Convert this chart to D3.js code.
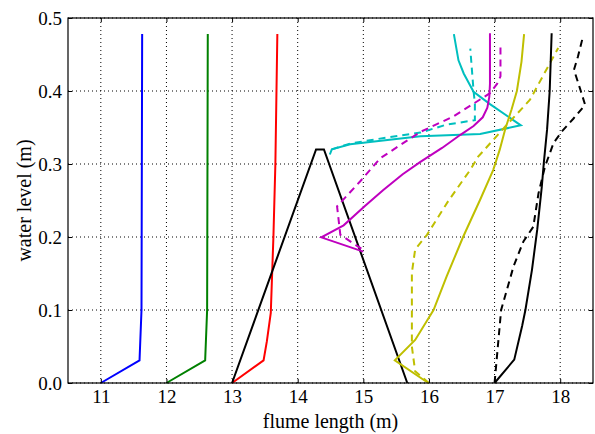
<!DOCTYPE html>
<html>
<head>
<meta charset="utf-8">
<script src="https://cdn.jsdelivr.net/npm/d3@7"></script>
<style>
  body { margin: 0; background: #fff; }
  text { font-family: "Palatino Linotype", Palatino, "URW Palladio L", "Liberation Serif", serif; }
</style>
</head>
<body>
<div id="chart"></div>
<script>
// tick values
var xTicks = [11, 12, 13, 14, 15, 16, 17, 18];
var yTicks = [0.0, 0.1, 0.2, 0.3, 0.4, 0.5];

// series, [flume length, water level]
var blueLine = [[11.0, 0], [11.59, 0.031], [11.62, 0.1], [11.63, 0.478]];
var greenLine = [[12.0, 0], [12.59, 0.031], [12.62, 0.1], [12.63, 0.478]];
var redLine = [[13.0, 0], [13.48, 0.031], [13.53, 0.057], [13.59, 0.096], [13.63, 0.2], [13.66, 0.3], [13.69, 0.478]];
var blackTriangle = [[13.0, 0], [14.28, 0.32], [14.40, 0.32], [15.67, 0]];
var yellowSolid = [[15.99, 0], [15.48, 0.031], [15.79, 0.059], [16.07, 0.1], [16.27, 0.146], [16.52, 0.2],
    [16.78, 0.251], [16.98, 0.292], [17.08, 0.32], [17.16, 0.347], [17.26, 0.375], [17.34, 0.4],
    [17.41, 0.44], [17.45, 0.478]];
var yellowDashed = [[16.0, 0], [15.79, 0.016], [15.74, 0.05], [15.74, 0.151], [15.79, 0.183], [15.97, 0.203],
    [16.3, 0.25], [16.63, 0.292], [16.75, 0.31], [17.16, 0.351], [17.54, 0.388], [17.97, 0.459]];
var cyanSolid = [[14.49, 0.313], [14.52, 0.32], [14.8, 0.327], [15.87, 0.338], [16.78, 0.341], [17.4, 0.353],
    [16.93, 0.382], [16.68, 0.399], [16.53, 0.424], [16.45, 0.442], [16.38, 0.478]];
var cyanDashed = [[14.52, 0.32], [14.8, 0.328], [15.2, 0.334], [15.87, 0.343], [16.27, 0.354], [16.7, 0.36],
    [16.7, 0.383], [16.68, 0.4], [16.63, 0.458]];
var magentaSolid = [[15.0, 0.18], [14.36, 0.1995], [14.7, 0.216], [15.02, 0.242], [15.3, 0.264], [15.6, 0.286],
    [15.87, 0.303], [16.2, 0.322], [16.48, 0.34], [16.68, 0.352], [16.82, 0.364], [16.89, 0.377],
    [16.92, 0.392], [16.93, 0.41], [16.93, 0.479]];
var magentaDashed = [[14.97, 0.184], [14.65, 0.203], [14.6, 0.242], [14.95, 0.276], [15.26, 0.308], [15.53, 0.324],
    [15.87, 0.344], [16.37, 0.365], [16.93, 0.397], [17.04, 0.41], [17.09, 0.42], [17.09, 0.463]];
var blackSolid = [[17.0, 0], [17.3, 0.032], [17.42, 0.078], [17.47, 0.1], [17.57, 0.155], [17.65, 0.21],
    [17.72, 0.269], [17.75, 0.301], [17.8, 0.347], [17.84, 0.4], [17.87, 0.479]];
var blackDashed = [[17.0, 0], [17.05, 0.05], [17.1, 0.1], [17.29, 0.16], [17.44, 0.194], [17.59, 0.214],
    [17.67, 0.26], [17.77, 0.297], [17.9, 0.329], [18.03, 0.345], [18.2, 0.362], [18.38, 0.381],
    [18.3, 0.404], [18.21, 0.429], [18.27, 0.447], [18.34, 0.472]];

var series = [
    {pts: blueLine, color: "#0000ff", dash: null},
    {pts: greenLine, color: "#008000", dash: null},
    {pts: redLine, color: "#ff0000", dash: null},
    {pts: blackTriangle, color: "#000000", dash: null},
    {pts: cyanSolid, color: "#00bfbf", dash: null},
    {pts: cyanDashed, color: "#00bfbf", dash: "7,5"},
    {pts: magentaSolid, color: "#bf00bf", dash: null},
    {pts: magentaDashed, color: "#bf00bf", dash: "7,5"},
    {pts: yellowSolid, color: "#bfbf00", dash: null},
    {pts: yellowDashed, color: "#bfbf00", dash: "7,5"},
    {pts: blackSolid, color: "#000000", dash: null},
    {pts: blackDashed, color: "#000000", dash: "7,5"}
];

var width = 595, height = 434;
var margins = {left: 68, right: 2, top: 18, bottom: 51};
var w = width - margins.left - margins.right;
var h = height - margins.top - margins.bottom;

var svg = d3.select("#chart").append("svg")
    .attr("width", width)
    .attr("height", height);

var g = svg.append("g")
    .attr("transform", "translate(" + margins.left + "," + margins.top + ")");

var x = d3.scaleLinear().domain([10.5, 18.5]).range([0, w]);
var y = d3.scaleLinear().domain([0, 0.5]).range([h, 0]);

// dotted grid
g.selectAll("line.gx").data(xTicks).enter().append("line")
    .attr("x1", function (d) { return x(d); })
    .attr("x2", function (d) { return x(d); })
    .attr("y1", 0).attr("y2", h)
    .attr("stroke", "#000").attr("stroke-width", 1)
    .attr("stroke-dasharray", "1,3");
g.selectAll("line.gy").data(yTicks).enter().append("line")
    .attr("x1", 0).attr("x2", w)
    .attr("y1", function (d) { return y(d); })
    .attr("y2", function (d) { return y(d); })
    .attr("stroke", "#000").attr("stroke-width", 1)
    .attr("stroke-dasharray", "1,3");

var line = d3.line()
    .x(function (d) { return x(d[0]); })
    .y(function (d) { return y(d[1]); });

series.forEach(function (s) {
    g.append("path")
        .datum(s.pts)
        .attr("d", line)
        .attr("fill", "none")
        .attr("stroke", s.color)
        .attr("stroke-width", 2)
        .attr("stroke-linejoin", "miter")
        .attr("stroke-dasharray", s.dash);
});

// axes, ticks inward
var xAxis = d3.axisBottom(x).tickValues(xTicks).tickSizeInner(-4).tickSizeOuter(0).tickPadding(7)
    .tickFormat(d3.format("d"));
var yAxis = d3.axisLeft(y).tickValues(yTicks).tickSizeInner(-4).tickSizeOuter(0).tickPadding(6)
    .tickFormat(d3.format(".1f"));

var gx = g.append("g").attr("transform", "translate(0," + h + ")").call(xAxis);
var gy = g.append("g").call(yAxis);
g.append("g").call(d3.axisTop(x).tickValues(xTicks).tickSizeInner(-4).tickSizeOuter(0).tickFormat(""));
g.append("g").attr("transform", "translate(" + w + ",0)")
    .call(d3.axisRight(y).tickValues(yTicks).tickSizeInner(-4).tickSizeOuter(0).tickFormat(""));

g.selectAll(".domain").remove();
g.selectAll(".tick text").attr("font-size", 19).attr("fill", "#000")
    .style("font-family", "\"Palatino Linotype\", Palatino, \"Liberation Serif\", serif");

// frame
g.append("rect")
    .attr("width", w).attr("height", h)
    .attr("fill", "none").attr("stroke", "#000").attr("stroke-width", 1.2);

svg.append("text")
    .attr("x", margins.left + w / 2)
    .attr("y", 428)
    .attr("text-anchor", "middle")
    .attr("font-size", 20)
    .text("flume length (m)");

svg.append("text")
    .attr("transform", "translate(31," + (margins.top + h / 2) + ") rotate(-90)")
    .attr("text-anchor", "middle")
    .attr("font-size", 20)
    .text("water level (m)");
</script>
</body>
</html>
